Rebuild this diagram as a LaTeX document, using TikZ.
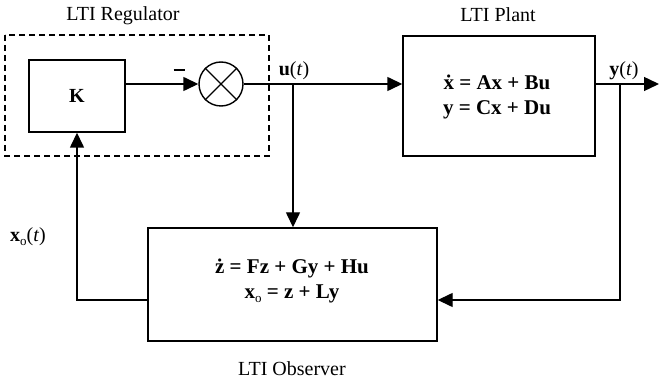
\documentclass[tikz,border=0pt]{standalone}
\usepackage{fontspec}
\setmainfont{Liberation Serif}
\usetikzlibrary{arrows.meta}
\newcommand{\lowsub}[1]{\raisebox{-0.4ex}{\fontsize{13pt}{13pt}\selectfont #1}}
\tikzset{
  blk/.style={draw, line width=1.4pt, rectangle, inner sep=0pt, align=center},
  lbl/.style={font=\fontsize{20pt}{22pt}\selectfont, inner sep=0pt},
  eq/.style={font=\fontsize{21pt}{25.5pt}\selectfont\bfseries, align=center, inner sep=0pt},
  wire/.style={line width=1.4pt},
  arr/.style={wire, -{Triangle[length=15pt,width=14pt]}},
}
\begin{document}
\begin{tikzpicture}[x=1pt,y=-1pt]
\useasboundingbox (0,0) rectangle (659,382);
% titles
\node[lbl] (treg) at (123,16) {LTI Regulator};
\node[lbl] (tplant) at (498,15) {LTI Plant};
\node[lbl] (tobs) at (292,369) {LTI Observer};
% dashed regulator box
\draw[line width=1.3pt, dash pattern=on 6pt off 4pt] (5,35) rectangle (269,156);
% K block
\node[blk, minimum width=96pt, minimum height=72pt, font=\fontsize{20pt}{20pt}\selectfont\bfseries] (K) at (77,96) {K};
% summing junction
\node[draw, circle, line width=1.4pt, minimum size=44pt, inner sep=0pt] (sum) at (221,84) {};
\draw[wire] (sum.north east) -- (sum.south west);
\draw[wire] (sum.north west) -- (sum.south east);
\node[lbl] (minus) at (179,70) {\rule{11pt}{1.2pt}};
% plant block
\node[blk, minimum width=192pt, minimum height=120pt] (plant) at (499,96) {};
\node[eq] (peq) at (497,97) {\.x = Ax + Bu\\y = Cx + Du};
% observer block
\node[blk, minimum width=289pt, minimum height=113pt] (obs) at (292.5,284.5) {};
\node[eq] (oeq) at (292,281) {\.z = Fz + Gy + Hu\\x\lowsub{\mdseries o} = z + Ly};
% signal labels
\node[lbl] (ulab) at (294,71) {\textbf{u}(\textit{t})};
\node[lbl] (ylab) at (624,71) {\textbf{y}(\textit{t})};
\node[lbl] (xlab) at (28,237) {\textbf{x}\lowsub{o}(\textit{t})};
% junction coordinates
\coordinate (uj) at (293,84);
\coordinate (yj) at (620,84);
\coordinate (yend) at (659,84);
\coordinate (lcorner) at (77,300);
\coordinate (rcorner) at (620,300);
% connectors
\draw[arr] (K.east |- sum.west) -- (sum.west);
\draw[arr] (sum.east) -- (plant.west |- sum.east);
\draw[arr] (uj) -- (uj |- obs.north);
\draw[arr] (plant.east |- yj) -- (yend);
\draw[arr] (yj) -- (rcorner) -- (obs.east |- rcorner);
\draw[arr] (obs.west |- lcorner) -- (lcorner) -- (lcorner |- K.south);
\end{tikzpicture}
\end{document}
